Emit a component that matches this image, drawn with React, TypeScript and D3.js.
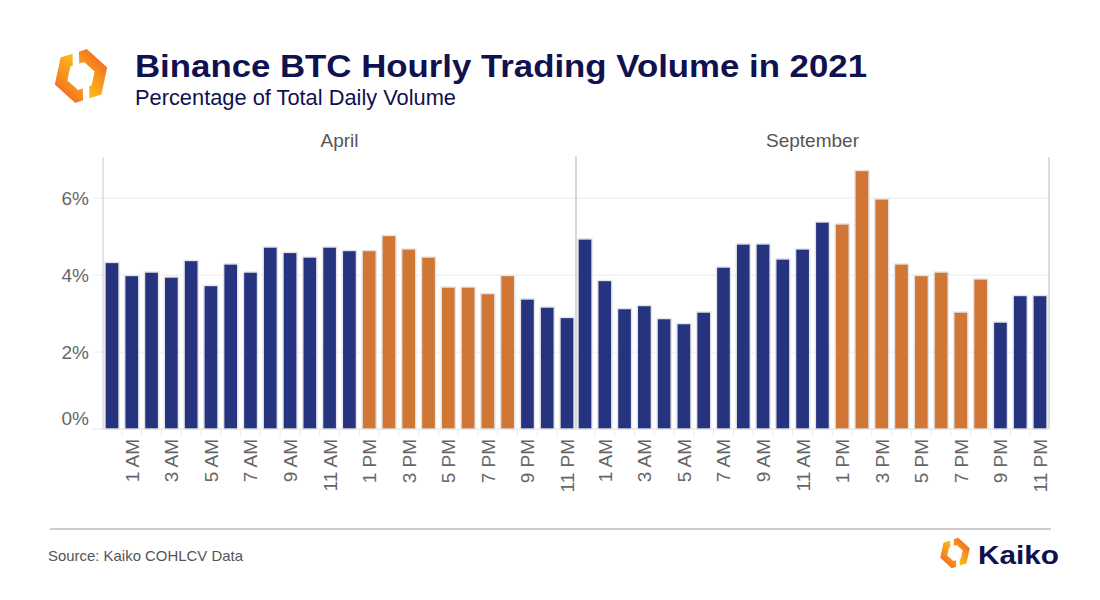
import React from "react";
import * as d3 from "d3";

const hours = [
  "12 AM", "1 AM", "2 AM", "3 AM", "4 AM", "5 AM", "6 AM", "7 AM", "8 AM", "9 AM", "10 AM", "11 AM",
  "12 PM", "1 PM", "2 PM", "3 PM", "4 PM", "5 PM", "6 PM", "7 PM", "8 PM", "9 PM", "10 PM", "11 PM",
];
const months = ["April", "September"];
const aprilValues = [
  4.33, 3.99, 4.08, 3.95, 4.38, 3.73, 4.29, 4.08, 4.73, 4.59, 4.47, 4.73,
  4.64, 4.64, 5.03, 4.68, 4.47, 3.69, 3.69, 3.52, 3.99, 3.38, 3.17, 2.9,
];
const septemberValues = [
  4.94, 3.86, 3.13, 3.21, 2.87, 2.74, 3.04, 4.21, 4.81, 4.81, 4.42, 4.68,
  5.38, 5.33, 6.72, 5.98, 4.29, 3.99, 4.08, 3.04, 3.9, 2.78, 3.47, 3.47,
];
const highlightHours = ["1 PM", "2 PM", "3 PM", "4 PM", "5 PM", "6 PM", "7 PM", "8 PM"];
const labeledHours = ["1 AM", "3 AM", "5 AM", "7 AM", "9 AM", "11 AM", "1 PM", "3 PM", "5 PM", "7 PM", "9 PM", "11 PM"];
const yTicks = [0, 2, 4, 6];
const yMax = 7.07;

const FONT = "'Liberation Sans', Arial, Helvetica, sans-serif";
const NAVY = "#10114f";
const BLUE = "#263480";
const ORANGE = "#d17735";

function piecePoints(): string {
  const V = (a: number, k: number) => [Math.cos((a * Math.PI) / 180) * k, Math.sin((a * Math.PI) / 180) * k];
  const ri = 0.52;
  const h = Math.sin(Math.PI / 3);
  const pts = [
    [-0.04, -h],
    V(240, 1),
    V(180, 1),
    V(120, 1),
    [-0.2, h],
    [-0.08, h * ri],
    V(120, ri),
    V(180, ri),
    V(240, ri),
    [-0.17, -h * ri],
  ];
  return pts.map((p) => p.join(",")).join(" ");
}

function Logo({ cx, cy, r, id }: { cx: number; cy: number; r: number; id: string }) {
  const pts = piecePoints();
  return (
    <g transform={`translate(${cx},${cy}) rotate(-18) scale(${r})`}>
      <defs>
        <linearGradient id={id} x1="0.9" y1="0" x2="0.1" y2="0.75">
          <stop offset="0" stopColor="#fcb71b" />
          <stop offset="0.55" stopColor="#f7931e" />
          <stop offset="1" stopColor="#f26a21" />
        </linearGradient>
      </defs>
      <polygon points={pts} fill={`url(#${id})`} />
      <polygon points={pts} fill={`url(#${id})`} transform="rotate(180)" />
    </g>
  );
}

export default function App() {
  const width = 1100;
  const height = 600;
  const plotLeft = 103;
  const plotRight = 1049;
  const plotTop = 157;
  const plotBottom = 429;

  const panelScale = d3.scaleBand<string>().domain(months).range([plotLeft, plotRight]).padding(0);
  const y = d3.scaleLinear().domain([0, yMax]).range([plotBottom, plotTop]);
  const series: Record<string, number[]> = { April: aprilValues, September: septemberValues };

  return (
    <svg
      width={width}
      height={height}
      style={{ position: "absolute", left: 0, top: 0, background: "#fff", display: "block" }}
      fontFamily={FONT}
    >
      <rect width={width} height={height} fill="#fff" />
      <Logo cx={81} cy={76} r={27.5} id="logoGradA" />
      <text x={135} y={77} fontSize={31} fontWeight="bold" fill={NAVY} textLength={732} lengthAdjust="spacingAndGlyphs">
        Binance BTC Hourly Trading Volume in 2021
      </text>
      <text x={135} y={105} fontSize={21.5} fill={NAVY} textLength={321} lengthAdjust="spacingAndGlyphs">
        Percentage of Total Daily Volume
      </text>

      {/* gridlines */}
      {yTicks.map((t) => (
        <line
          key={"g" + t}
          x1={plotLeft - 10}
          x2={plotRight}
          y1={y(t)}
          y2={y(t)}
          stroke={t === 0 ? "#e2e2e2" : "#efefef"}
          strokeWidth={1.2}
        />
      ))}
      {yTicks.map((t) => (
        <text
          key={"yl" + t}
          x={89}
          y={Math.min(y(t), plotBottom - 11)}
          dy="0.35em"
          textAnchor="end"
          fontSize={19}
          fill="#666"
        >
          {t}%
        </text>
      ))}

      {months.map((m) => {
        const x0 = panelScale(m)!;
        const x1 = x0 + panelScale.bandwidth();
        const x = d3.scaleBand<string>().domain(hours).range([x0, x1]).paddingInner(0.29).paddingOuter(0.1);
        const vals = series[m];
        return (
          <g key={m}>
            <text x={(x0 + x1) / 2} y={140} dy="0.35em" textAnchor="middle" fontSize={19} fill="#555">
              {m}
            </text>
            {hours.slice(1).map((hh) => {
              const bx = x(hh)! - (x.step() - x.bandwidth()) / 2;
              return <line key={"t" + hh} x1={bx} x2={bx} y1={plotBottom} y2={plotBottom + 8} stroke="#ececec" strokeWidth={1} />;
            })}
            {hours.map((hh, i) => (
              <rect
                key={hh}
                x={x(hh)!}
                y={y(vals[i])}
                width={x.bandwidth()}
                height={plotBottom - y(vals[i])}
                fill={highlightHours.includes(hh) ? ORANGE : BLUE}
                stroke="#e4e4e8"
                strokeWidth={1.4}
              />
            ))}
            {labeledHours.map((hh) => {
              const cx = x(hh)! + x.bandwidth() / 2;
              return (
                <text
                  key={"xl" + hh}
                  transform={`translate(${cx + 7},${plotBottom + 10}) rotate(-90)`}
                  textAnchor="end"
                  fontSize={19}
                  fill="#666"
                >
                  {hh}
                </text>
              );
            })}
          </g>
        );
      })}

      {/* axes / panel borders */}
      <line x1={plotLeft} x2={plotLeft} y1={plotTop} y2={plotBottom} stroke="#d6d6d6" strokeWidth={1.3} />
      <line
        x1={panelScale("September")!}
        x2={panelScale("September")!}
        y1={plotTop - 1}
        y2={plotBottom}
        stroke="#c4c4c4"
        strokeWidth={1.3}
      />
      <line x1={plotRight} x2={plotRight} y1={plotTop} y2={plotBottom} stroke="#d0d0d0" strokeWidth={1.5} />

      {/* footer */}
      <line x1={50} x2={1051} y1={529} y2={529} stroke="#bdbdbd" strokeWidth={1.3} />
      <text x={48} y={561} fontSize={14.5} fill="#555" textLength={195} lengthAdjust="spacingAndGlyphs">
        Source: Kaiko COHLCV Data
      </text>
      <Logo cx={955} cy={553} r={15.5} id="logoGradB" />
      <text x={978} y={564} fontSize={26} fontWeight="bold" fill={NAVY} textLength={81} lengthAdjust="spacingAndGlyphs">
        Kaiko
      </text>
    </svg>
  );
}
